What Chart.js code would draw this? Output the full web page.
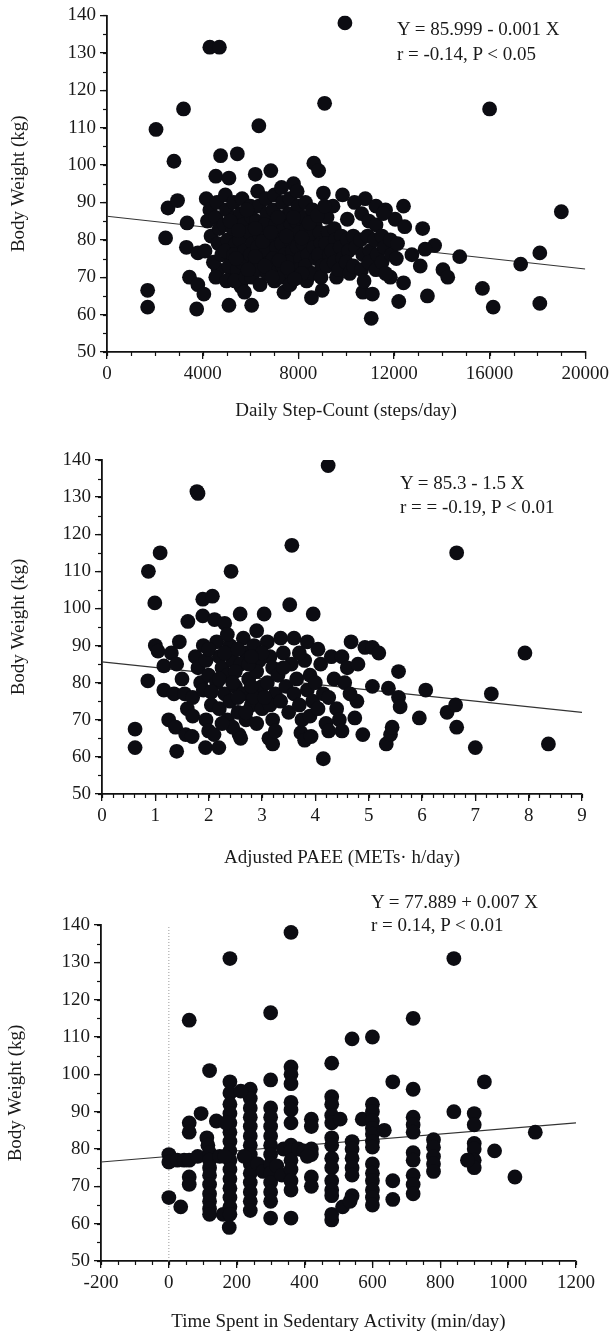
<!DOCTYPE html>
<html><head><meta charset="utf-8">
<script src="https://cdn.jsdelivr.net/npm/chart.js@4.4.1/dist/chart.umd.min.js"></script>
<style>
html,body{margin:0;padding:0;background:#fff;}
#page{position:relative;width:613px;height:1335px;overflow:hidden;background:#fff;}
canvas{position:absolute;left:0;}
.eq{position:absolute;font-family:'Liberation Serif','Times New Roman',serif;font-size:19px;color:#1a1a1a;white-space:nowrap;}
</style></head><body>
<div id="page">
<canvas id="c1" width="613" height="440" style="top:0px"></canvas>
<canvas id="c2" width="613" height="445" style="top:440px"></canvas>
<canvas id="c3" width="613" height="450" style="top:885px"></canvas>
<div class="eq" style="left:397px;top:16px;line-height:25px">Y = 85.999 - 0.001 X<br>r = -0.14, P &lt; 0.05</div>
<div class="eq" style="left:400px;top:471px;line-height:24px">Y = 85.3 - 1.5 X<br>r = = -0.19, P &lt; 0.01</div>
<div class="eq" style="left:371px;top:890px;line-height:23px">Y = 77.889 + 0.007 X<br>r = 0.14, P &lt; 0.01</div>
</div>
<script>
// ---------- Panel 1: daily step count vs body weight ----------
const stepsWeight = [
[1700,66.5],[1700,62],[2050,109.5],[2450,80.5],[2550,88.5],[2950,90.5],[2800,101],[3200,115],[3350,84.5],[3320,78],
[3800,76.5],[3450,70],[3800,68],[4050,65.5],[3750,61.5],[4300,131.5],[4700,131.5],[4750,102.5],[5450,103],[4550,97],
[5100,96.5],[6200,97.5],[6850,98.5],[6350,110.5],[7800,95],[8650,100.5],[8850,98.5],[9100,116.5],[9950,138],[9050,92.5],
[9850,92],[10050,85.5],[5100,62.5],[6050,62.5],[5600,67.5],[7400,66],[8550,64.5],[9000,66.5],[4650,72],[5200,72],
[10800,91],[11250,89],[11650,88],[12400,89],[12050,85.5],[12450,83.5],[13200,83],[13700,78.5],[13300,77.5],[14750,75.5],
[17300,73.5],[18100,76.5],[19000,87.5],[12750,76],[13100,73],[14050,72],[14250,70],[12400,68.5],[12200,63.5],[13400,65],
[15700,67],[16150,62],[18100,63],[11050,59],[11850,70],[10700,66],[11100,65.5],[16000,115],
[4150,91],[4300,88],[4200,85],[4350,81],[4100,77],[4450,74],
[4600,90],[4550,86],[4700,83],[4650,79],[4800,76],[4550,70],
[4950,92],[5000,88],[4900,84],[5050,80],[4950,77],[5100,73],[5000,69],
[5300,90],[5350,86],[5250,83],[5400,79],[5300,76],[5450,72],[5350,69],
[5650,91],[5600,87],[5700,84],[5550,80],[5750,77],[5650,74],[5800,70],[5750,66],
[6000,89],[6050,86],[5950,82],[6100,79],[6000,76],[6150,73],[6050,70],
[6300,93],[6350,89],[6250,85],[6400,81],[6300,78],[6450,75],[6350,72],[6400,68],
[6650,91],[6700,87],[6600,84],[6750,80],[6650,77],[6800,74],[6700,71],
[7000,92],[6950,88],[7050,84],[7000,81],[7100,78],[6950,75],[7050,72],[7000,69],
[7300,94],[7350,90],[7250,86],[7400,83],[7300,79],[7450,76],[7350,73],[7300,70],
[7650,91],[7600,87],[7700,84],[7650,80],[7750,77],[7600,74],[7700,71],[7650,68],
[7950,93],[8000,89],[7900,85],[8050,82],[7950,78],[8100,75],[8000,72],
[8300,90],[8250,86],[8350,83],[8200,79],[8400,76],[8300,73],[8350,69],
[8600,88],[8700,84],[8550,81],[8650,78],[8750,75],[8600,71],
[8900,82],[8950,79],[8850,76],[9000,73],[8950,70],
[9200,86],[9250,82],[9150,79],[9300,76],[9200,73],
[9450,89],[9500,83],[9550,80],[9400,77],[9500,74],[9600,70],
[9800,81],[9750,78],[9850,75],[9700,72],
[10050,80],[10100,77],[10000,74],[10150,71],
[10350,90],[10300,81],[10400,78],[10300,73],
[10650,87],[10600,80],[10700,76],[10650,72],[10750,69],
[10950,85],[10900,81],[11000,77],[10950,74],
[11250,84],[11200,80],[11300,76],[11250,72],
[11550,87],[11500,81],[11600,78],[11500,74],[11650,71],
[11850,80],[11900,76],[12150,79],[12100,75],
[5150,85],[5500,82.5],[5850,88],[6200,83],[6500,79.5],[6850,82],[7150,86],[7500,81],[7800,86],[8150,80.5],
[8450,84.5],[6200,75.5],[6600,73],[7200,74.5],[7550,72.5],[8150,71],[5400,75],[5900,72],[6900,70],[7850,69.5],
[8800,86.5],[9100,89]
];
const fit1X = [0, 20000];
const fit1Y = [86.3, 72.2];
const xTicks1 = {min: 0, max: 20000, major: 4000, minor: 1000};

// ---------- Panel 2: adjusted PAEE vs body weight ----------
const paeeWeight = [
[0.62,67.5],[0.62,62.5],[0.87,110],[0.86,80.5],[0.99,101.5],[1.09,115],[1.0,90],[1.05,88.5],[1.16,84.5],[1.16,78],
[1.35,77],[1.25,70],[1.38,68],[1.57,66],[1.69,65.5],[1.4,61.5],[1.94,62.5],[2.19,62.5],[1.78,131.5],[1.8,131],
[2.42,110],[1.89,102.5],[2.07,103.3],[1.89,98],[2.11,97],[2.3,96],[1.61,96.5],[2.59,98.5],[3.04,98.5],[3.52,101],
[3.56,117],[3.96,98.5],[4.24,138.5],[4.15,59.5],[2.57,66],[3.13,65],[3.73,66.5],[6.65,115],[7.93,88],[7.3,77],
[6.07,78],[5.56,83],[5.95,70.5],[6.47,72],[6.63,74],[6.65,68],[7.0,62.5],[8.37,63.5],[5.33,63.5],[5.41,66],
[5.44,68],[4.89,66],[4.74,70.5],[4.78,75],[5.07,79],[5.37,78.5],[5.56,76],[5.59,73.5],[4.67,91],[4.93,89.5],
[5.07,89.5],[5.19,88],[3.8,64.5],[3.92,65.5],[3.2,63.5],
[1.3,88],[1.4,85],[1.45,91],[1.5,81],[1.55,77],[1.6,73],[1.7,71],[1.75,87],[1.8,84],[1.85,80],
[1.7,76],[1.9,90],[1.95,86],[2.0,82],[1.9,78],[2.05,74],[1.95,70],[2.0,67],[2.1,66],[2.15,91],
[2.2,87],[2.25,84],[2.15,80],[2.3,77],[2.2,73],[2.35,70],[2.4,90],[2.45,86],[2.35,82],[2.5,79],
[2.4,75],[2.55,72],[2.45,68],[2.6,65],[2.65,92],[2.7,88],[2.6,85],[2.75,81],[2.65,77],[2.8,74],
[2.7,70],[2.9,94],[2.85,90],[2.95,86],[2.9,83],[3.0,79],[2.85,76],[3.0,73],[2.9,69],[3.1,91],
[3.15,87],[3.2,84],[3.1,80],[3.25,77],[3.15,74],[3.2,70],[3.25,67],[3.35,92],[3.4,88],[3.3,82],
[3.45,79],[3.35,75],[3.5,72],[3.6,92],[3.55,85],[3.65,81],[3.6,77],[3.7,74],[3.75,70],[3.85,91],
[3.8,86],[3.9,82],[3.85,78],[3.95,75],[3.9,71],[4.05,89],[4.1,85],[4.0,80],[4.15,77],[4.05,73],
[4.2,69],[4.25,67],[4.3,87],[4.35,81],[4.25,76],[4.4,73],[4.5,87],[4.45,70],[4.55,80],[4.6,84],
[4.65,77],[4.5,67],[4.8,85],[2.3,88],[2.5,83],[2.8,79],[2.55,76],[3.0,88],[2.75,85],[2.2,81],
[2.0,89],[2.35,93],[2.55,89],[2.8,87],[2.45,80],[2.05,77.5],[2.7,72],[3.05,76],[3.4,84],[3.7,88],[2.25,69]
];
const fit2X = [0, 9];
const fit2Y = [85.6, 72];
const xTicks2 = {min: 0, max: 9, major: 1, minor: 0.2};

// ---------- Panel 3: sedentary time vs body weight ----------
const sedentaryWeight = [
[0,78.5],[0,76.5],[0,67],[25,77],[45,77],[35,64.5],
[60,87],[60,84.5],[60,77],[60,72.5],[60,70.5],[60,114.5],[95,89.5],[85,78],
[120,101],[112,83],[115,81],[120,79],[120,77],[120,75],[120,73],[120,70.5],[120,68],[120,66],[120,64],[120,62.5],[140,87.5],[150,78],[160,62.5],
[180,131],[180,98],[180,95],[180,92],[180,89.5],[180,87],[180,84.5],[180,82],[180,79.5],[180,77],[180,74.5],[180,72],[180,69.5],[180,67],[180,64.5],[180,62.5],[178,59],[165,78],[168,87],
[240,96],[240,93.5],[240,91],[240,88.5],[240,86],[240,83.5],[240,81],[240,78.5],[240,76],[240,73.5],[240,71],[240,68.5],[240,66],[240,63.5],[212,95.5],[222,78],[262,76],[278,74],
[300,116.5],[300,98.5],[300,91],[300,88.5],[300,86],[300,83.5],[300,81],[300,78.5],[300,76],[300,73.5],[300,71],[300,68.5],[300,66],[300,61.5],[318,75.5],[333,73],[338,80],
[360,138],[360,102],[360,100],[360,97.5],[360,92.5],[360,90.5],[360,87],[360,81],[360,79.5],[360,77],[360,74.5],[360,71.5],[360,69],[360,61.5],[382,80],[398,79.5],
[420,88],[420,86],[420,80],[420,78.5],[420,72.5],[420,70],[408,78],
[480,103],[480,94],[480,92],[480,89],[480,87],[480,83],[480,81],[480,77.5],[480,75],[480,71.5],[480,69],[480,67.5],[480,61],[480,62.5],[505,88],[512,64.5],
[540,109.5],[540,82],[540,80],[540,77.5],[540,75],[540,73],[540,67.5],[570,88],[534,66],
[600,110],[600,92],[600,90],[600,87.5],[600,85.5],[600,84],[600,82],[600,80.5],[600,76],[600,73.5],[600,71.5],[600,69],[600,67],[600,65],[635,85],
[660,98],[660,71.5],[660,66.5],
[720,115],[720,96],[720,88.5],[720,86.5],[720,84.5],[720,79],[720,77],[720,73],[720,70.5],[720,68],
[780,82.5],[780,80.5],[780,78],[780,76],[780,74],
[840,131],[840,90],
[900,89.5],[900,86.5],[900,81.5],[900,80],[900,77],[900,75],[880,77],
[930,98],[960,79.5],[1020,72.5],[1080,84.5]
];
const fit3X = [-200, 1200];
const fit3Y = [76.5, 87];
const xTicks3 = {min: -200, max: 1200, major: 200, minor: 50};
const zeroLineX = [0, 0];
const zeroLineY = [50, 140];

const yTitle = 'Body Weight (kg)';
const xTitles = ['Daily Step-Count (steps/day)', 'Adjusted PAEE (METs\u00b7 h/day)', 'Time Spent in Sedentary Activity (min/day)'];

// ---------- rendering ----------
const FAMILY = "'Liberation Serif','Times New Roman',serif";
const INK = '#111';
const DOT = '#0c0c12';

const minorTicks = {
  id: 'minorTicks',
  afterDatasetsDraw(chart, args, o) {
    const ctx = chart.ctx, xs = chart.scales.x, ys = chart.scales.y;
    ctx.save();
    ctx.strokeStyle = INK; ctx.lineWidth = 1.2;
    const nx = Math.round((xs.max - xs.min) / o.xMinor);
    for (let i = 0; i <= nx; i++) {
      const px = Math.round(xs.getPixelForValue(xs.min + i * o.xMinor)) + 0.5;
      ctx.beginPath(); ctx.moveTo(px, xs.top); ctx.lineTo(px, xs.top + 4); ctx.stroke();
    }
    const ny = Math.round((ys.max - ys.min) / o.yMinor);
    for (let i = 0; i <= ny; i++) {
      const py = Math.round(ys.getPixelForValue(ys.min + i * o.yMinor)) + 0.5;
      ctx.beginPath(); ctx.moveTo(ys.right, py); ctx.lineTo(ys.right - 4, py); ctx.stroke();
    }
    ctx.restore();
  }
};

function pts(pairs) { return pairs.map(p => ({x: p[0], y: p[1]})); }
function zipXY(xa, ya) { return xa.map((v, i) => ({x: v, y: ya[i]})); }

function makePanel(id, cfg) {
  const canvas = document.getElementById(id);
  const H = canvas.height;
  const datasets = [
    {data: pts(cfg.points), pointRadius: 7.4, pointBackgroundColor: DOT, pointBorderWidth: 0, showLine: false, order: 0},
    {data: zipXY(cfg.fitX, cfg.fitY), showLine: true, pointRadius: 0, borderColor: '#333', borderWidth: 1.1, order: 2}
  ];
  if (cfg.zeroX) datasets.push({data: zipXY(cfg.zeroX, cfg.zeroY), showLine: true, pointRadius: 0, borderColor: '#9a9a9a', borderWidth: 1, borderDash: [1, 2], order: 3});
  new Chart(canvas, {
    type: 'scatter',
    data: {datasets},
    plugins: [minorTicks],
    options: {
      responsive: false, animation: false, devicePixelRatio: 1, events: [],
      layout: {autoPadding: false, padding: {left: 0, right: 613 - cfg.right, top: cfg.top, bottom: 0}},
      plugins: {legend: {display: false}, tooltip: {enabled: false}, minorTicks: {xMinor: cfg.xt.minor, yMinor: cfg.yMinor}},
      scales: {
        x: {
          type: 'linear', min: cfg.xt.min, max: cfg.xt.max,
          afterFit: s => { s.height = H - cfg.bottom; },
          grid: {display: true, drawOnChartArea: false, drawTicks: true, tickLength: 7, color: INK, lineWidth: 1.3},
          border: {display: true, color: INK, width: 1.8},
          ticks: {stepSize: cfg.xt.major, autoSkip: false, maxRotation: 0, padding: 4, color: '#1a1a1a',
                  font: {family: FAMILY, size: 19}, callback: v => String(v)},
          title: {display: true, text: cfg.xTitle, color: '#1a1a1a', font: {family: FAMILY, size: 19},
                  padding: {top: 0, bottom: cfg.xTitlePad}}
        },
        y: {
          type: 'linear', min: 50, max: 140,
          afterFit: s => { s.width = cfg.left; },
          grid: {display: true, drawOnChartArea: false, drawTicks: true, tickLength: 7, color: INK, lineWidth: 1.3},
          border: {display: true, color: INK, width: 1.8},
          ticks: {stepSize: 10, autoSkip: false, padding: 4, color: '#1a1a1a',
                  font: {family: FAMILY, size: 19}, callback: v => String(v)},
          title: {display: true, text: yTitle, color: '#1a1a1a', font: {family: FAMILY, size: 19},
                  padding: {top: cfg.yTitlePad, bottom: 0}}
        }
      }
    }
  });
}

makePanel('c1', {points: stepsWeight, fitX: fit1X, fitY: fit1Y, xt: xTicks1, yMinor: 5,
  left: 107, right: 589, top: 15, bottom: 352, xTitle: xTitles[0], xTitlePad: 18, yTitlePad: 8});
makePanel('c2', {points: paeeWeight, fitX: fit2X, fitY: fit2Y, xt: xTicks2, yMinor: 5,
  left: 102, right: 582, top: 20, bottom: 354, xTitle: xTitles[1], xTitlePad: 16, yTitlePad: 8});
makePanel('c3', {points: sedentaryWeight, fitX: fit3X, fitY: fit3Y, xt: xTicks3, yMinor: 5,
  left: 101, right: 576, top: 40, bottom: 376, xTitle: xTitles[2], xTitlePad: 2, yTitlePad: 5,
  zeroX: zeroLineX, zeroY: zeroLineY});
</script>
</body></html>
